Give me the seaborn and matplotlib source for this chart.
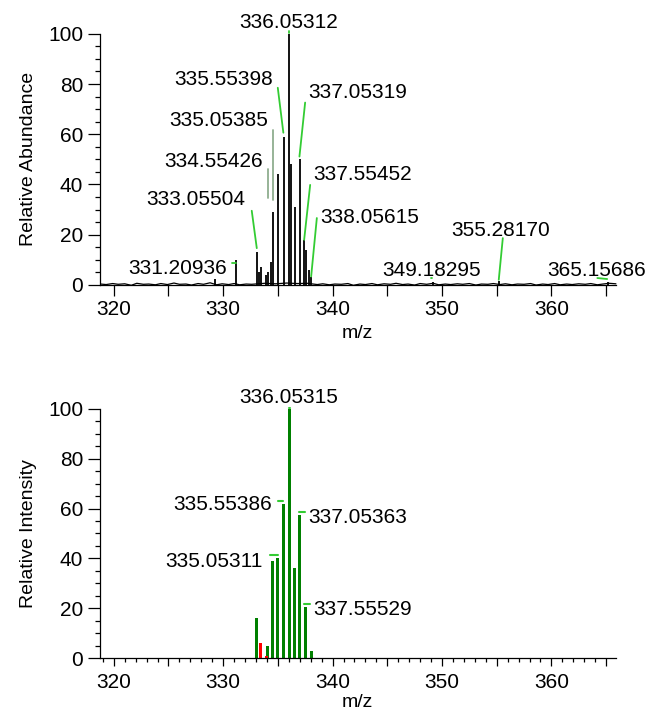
import matplotlib
matplotlib.use("Agg")
import matplotlib.pyplot as plt
import seaborn as sns
from matplotlib.ticker import MultipleLocator, FuncFormatter

# measured spectrum (top panel): stick peaks
meas_mz = [329.25, 331.21, 333.06, 333.28, 333.48, 333.9, 334.07, 334.38, 334.55,
           335.05, 335.55, 336.05, 336.22, 336.57, 337.03, 337.43, 337.56, 337.8,
           338.06, 349.18, 355.22, 365.16]
meas_int = [2.5, 10, 13, 5, 7, 4, 5, 9, 29,
            44, 59, 100, 48, 31, 50, 18, 14, 6,
            3, 1, 1.5, 1.2]

# baseline noise of the measured spectrum
noise_mz = [318.8, 319.3, 319.9, 320.4, 321.0, 321.6, 322.1, 322.7, 323.2, 323.8,
            324.3, 324.9, 325.5, 326.0, 326.6, 327.1, 327.7, 328.2, 328.8, 329.4,
            329.9, 330.5, 331.0, 331.5, 332.1, 332.6, 333.8, 334.8, 335.8, 336.8,
            337.7, 338.6, 339.1, 339.7, 340.2, 340.8, 341.4, 341.9, 342.5, 343.0,
            343.6, 344.1, 344.7, 345.3, 345.8, 346.4, 346.9, 347.5, 348.0, 348.6,
            349.2, 349.7, 350.3, 350.8, 351.4, 351.9, 352.5, 353.1, 353.6, 354.2,
            354.7, 355.3, 355.8, 356.4, 356.9, 357.5, 358.1, 358.6, 359.2, 359.7,
            360.3, 360.8, 361.4, 361.9, 362.5, 363.1, 363.6, 364.2, 364.7, 365.3,
            365.9]
noise_int = [0.3, 0.1, 0.5, 0.2, 0.4, -0.2, 0.6, 0.2, 0.3, 0.0,
             0.5, 0.1, 0.7, 0.2, 0.3, -0.1, 0.5, 0.2, 0.8, 0.0,
             0.4, 0.1, 0.5, 0.0, 0.3, 0.2, 0.6, 0.4, 0.7, 0.5,
             0.6, 0.1, 0.4, 0.0, 0.3, 0.2, 0.5, -0.2, 0.3, 0.1,
             0.5, 0.0, 0.4, 0.2, 0.6, 0.1, 0.3, -0.1, 0.5, 0.2,
             0.6, 0.0, 0.3, 0.1, 0.4, 0.2, 0.5, -0.1, 0.3, 0.2,
             0.5, 0.1, 0.4, 0.0, 0.3, 0.2, 0.5, -0.1, 0.3, 0.1,
             0.5, 0.0, 0.3, 0.1, 0.4, 0.2, 0.5, 0.0, 0.3, 0.6,
             0.4]

meas_labels = ["336.05312", "335.55398", "335.05385", "334.55426", "333.05504",
               "331.20936", "337.05319", "337.55452", "338.05615", "355.28170",
               "349.18295", "365.15686"]

# theoretical isotope pattern (bottom panel)
calc_mz = [333.03, 334.07, 334.53, 335.0, 335.5, 336.03, 336.55, 337.0, 337.5, 338.07]
calc_int = [16, 5, 39, 40, 62, 100, 36, 57.5, 20.5, 3]
calc_red_mz = [333.43, 334.0]
calc_red_int = [6, 1]

calc_labels = ["336.05315", "335.55386", "335.05311", "337.05363", "337.55529"]

# label placement (text x, text y, alignment) and leader lines (x1, y1, x2, y2)
meas_text = [(336.0, 102.3, "center"), (334.53, 79.7, "right"), (334.07, 63.3, "right"),
             (333.67, 47.1, "right"), (332.06, 31.6, "right"), (330.32, 4.4, "right"),
             (337.79, 74.4, "left"), (338.25, 41.8, "left"), (338.86, 24.8, "left"),
             (355.39, 19.5, "center"), (349.06, 3.6, "center"), (359.62, 3.6, "left")]
meas_lead = [(336.05, 100.3, 336.05, 101.3), (334.99, 78.5, 335.50, 60.6),
             (334.53, 61.8, 334.53, 33.9), (334.12, 46.0, 334.12, 34.5),
             (332.61, 29.5, 333.07, 14.6), (330.77, 8.6, 331.17, 8.6),
             (337.49, 72.6, 336.97, 51.1), (337.95, 39.8, 337.40, 17.9),
             (338.56, 26.6, 338.04, 3.3), (355.56, 18.6, 355.19, 2.0),
             (348.99, 2.8, 349.10, 2.8), (364.20, 2.7, 365.10, 2.3)]
meas_lead_col = ["#33cc33", "#33cc33", "#8fae8f", "#8fae8f", "#33cc33", "#33cc33",
                 "#33cc33", "#33cc33", "#33cc33", "#33cc33", "#33cc33", "#33cc33"]

calc_text = [(335.96, 102.2, "center"), (334.44, 59.5, "right"), (333.58, 36.7, "right"),
             (337.79, 54.2, "left"), (338.25, 17.4, "left")]
calc_lead = [(336.0, 100.4, 336.1, 100.4), (334.98, 63.2, 335.44, 63.2),
             (334.29, 41.4, 335.05, 41.4), (336.94, 58.4, 337.49, 58.4),
             (337.43, 21.7, 337.95, 21.7)]


def style_axis(ax, ylabel, xmajor, xminor, xlabelpad):
    sns.despine(ax=ax)
    ax.set_xlim(318.72, 365.9)
    ax.set_ylim(0, 100)
    ax.xaxis.set_major_locator(MultipleLocator(xmajor))
    if xminor:
        ax.xaxis.set_minor_locator(MultipleLocator(xminor))
    ax.xaxis.set_major_formatter(FuncFormatter(lambda v, p: f"{v:.0f}" if round(v) % 10 == 0 else ""))
    ax.yaxis.set_major_locator(MultipleLocator(20))
    ax.yaxis.set_minor_locator(MultipleLocator(5))
    ax.tick_params(axis="both", which="major", labelsize=15, width=0.9, color="black", pad=3)
    ax.tick_params(axis="y", which="major", length=9)
    ax.tick_params(axis="y", which="minor", length=3.6, width=0.9)
    ax.tick_params(axis="x", which="minor", length=3, width=0.9)
    for s in ["left", "bottom"]:
        ax.spines[s].set_linewidth(0.9)
        ax.spines[s].set_color("black")
    ax.set_xlabel("m/z", fontsize=14, labelpad=xlabelpad)
    ax.set_ylabel(ylabel, fontsize=14, labelpad=8)


def main():
    sns.set_style("ticks")
    plt.rcParams["font.family"] = ["Liberation Sans", "DejaVu Sans"]
    plt.rcParams["text.color"] = "black"
    plt.rcParams["axes.labelcolor"] = "black"
    plt.rcParams["xtick.color"] = "black"
    plt.rcParams["ytick.color"] = "black"

    fig = plt.figure(figsize=(6.48, 7.12), dpi=100)
    ax1 = fig.add_axes([0.154, 0.600, 0.7965, 0.3525])
    ax2 = fig.add_axes([0.154, 0.0758, 0.7965, 0.350])

    # Top: measured spectrum
    sns.lineplot(x=noise_mz, y=noise_int, ax=ax1, color="black", linewidth=0.9,
                 clip_on=False, sort=True)
    ax1.vlines(meas_mz, 0, meas_int, color="black", linewidth=1.3, clip_on=False)
    for lab, (tx, ty, ha), (x1, y1, x2, y2), c in zip(meas_labels, meas_text, meas_lead, meas_lead_col):
        ax1.text(tx, ty, lab, ha=ha, va="baseline", fontsize=15, clip_on=False)
        ax1.plot([x1, x2], [y1, y2], color=c, linewidth=1.3, clip_on=False)
    style_axis(ax1, "Relative Abundance", 5, None, 4)
    ax1.tick_params(axis="x", which="major", length=8)

    # Bottom: theoretical isotope pattern
    ax2.bar(calc_mz, calc_int, width=0.28, color="#008000", linewidth=0)
    ax2.bar(calc_red_mz, calc_red_int, width=0.28, color="#ff0000", linewidth=0)
    for lab, (tx, ty, ha), (x1, y1, x2, y2) in zip(calc_labels, calc_text, calc_lead):
        ax2.text(tx, ty, lab, ha=ha, va="baseline", fontsize=15, clip_on=False)
        ax2.plot([x1, x2], [y1, y2], color="#33cc33", linewidth=1.5, clip_on=False)
    style_axis(ax2, "Relative Intensity", 5, 1, 1)
    ax2.tick_params(axis="x", which="major", length=6, pad=5)

    fig.savefig("out.png", dpi=100)


if __name__ == "__main__":
    main()
